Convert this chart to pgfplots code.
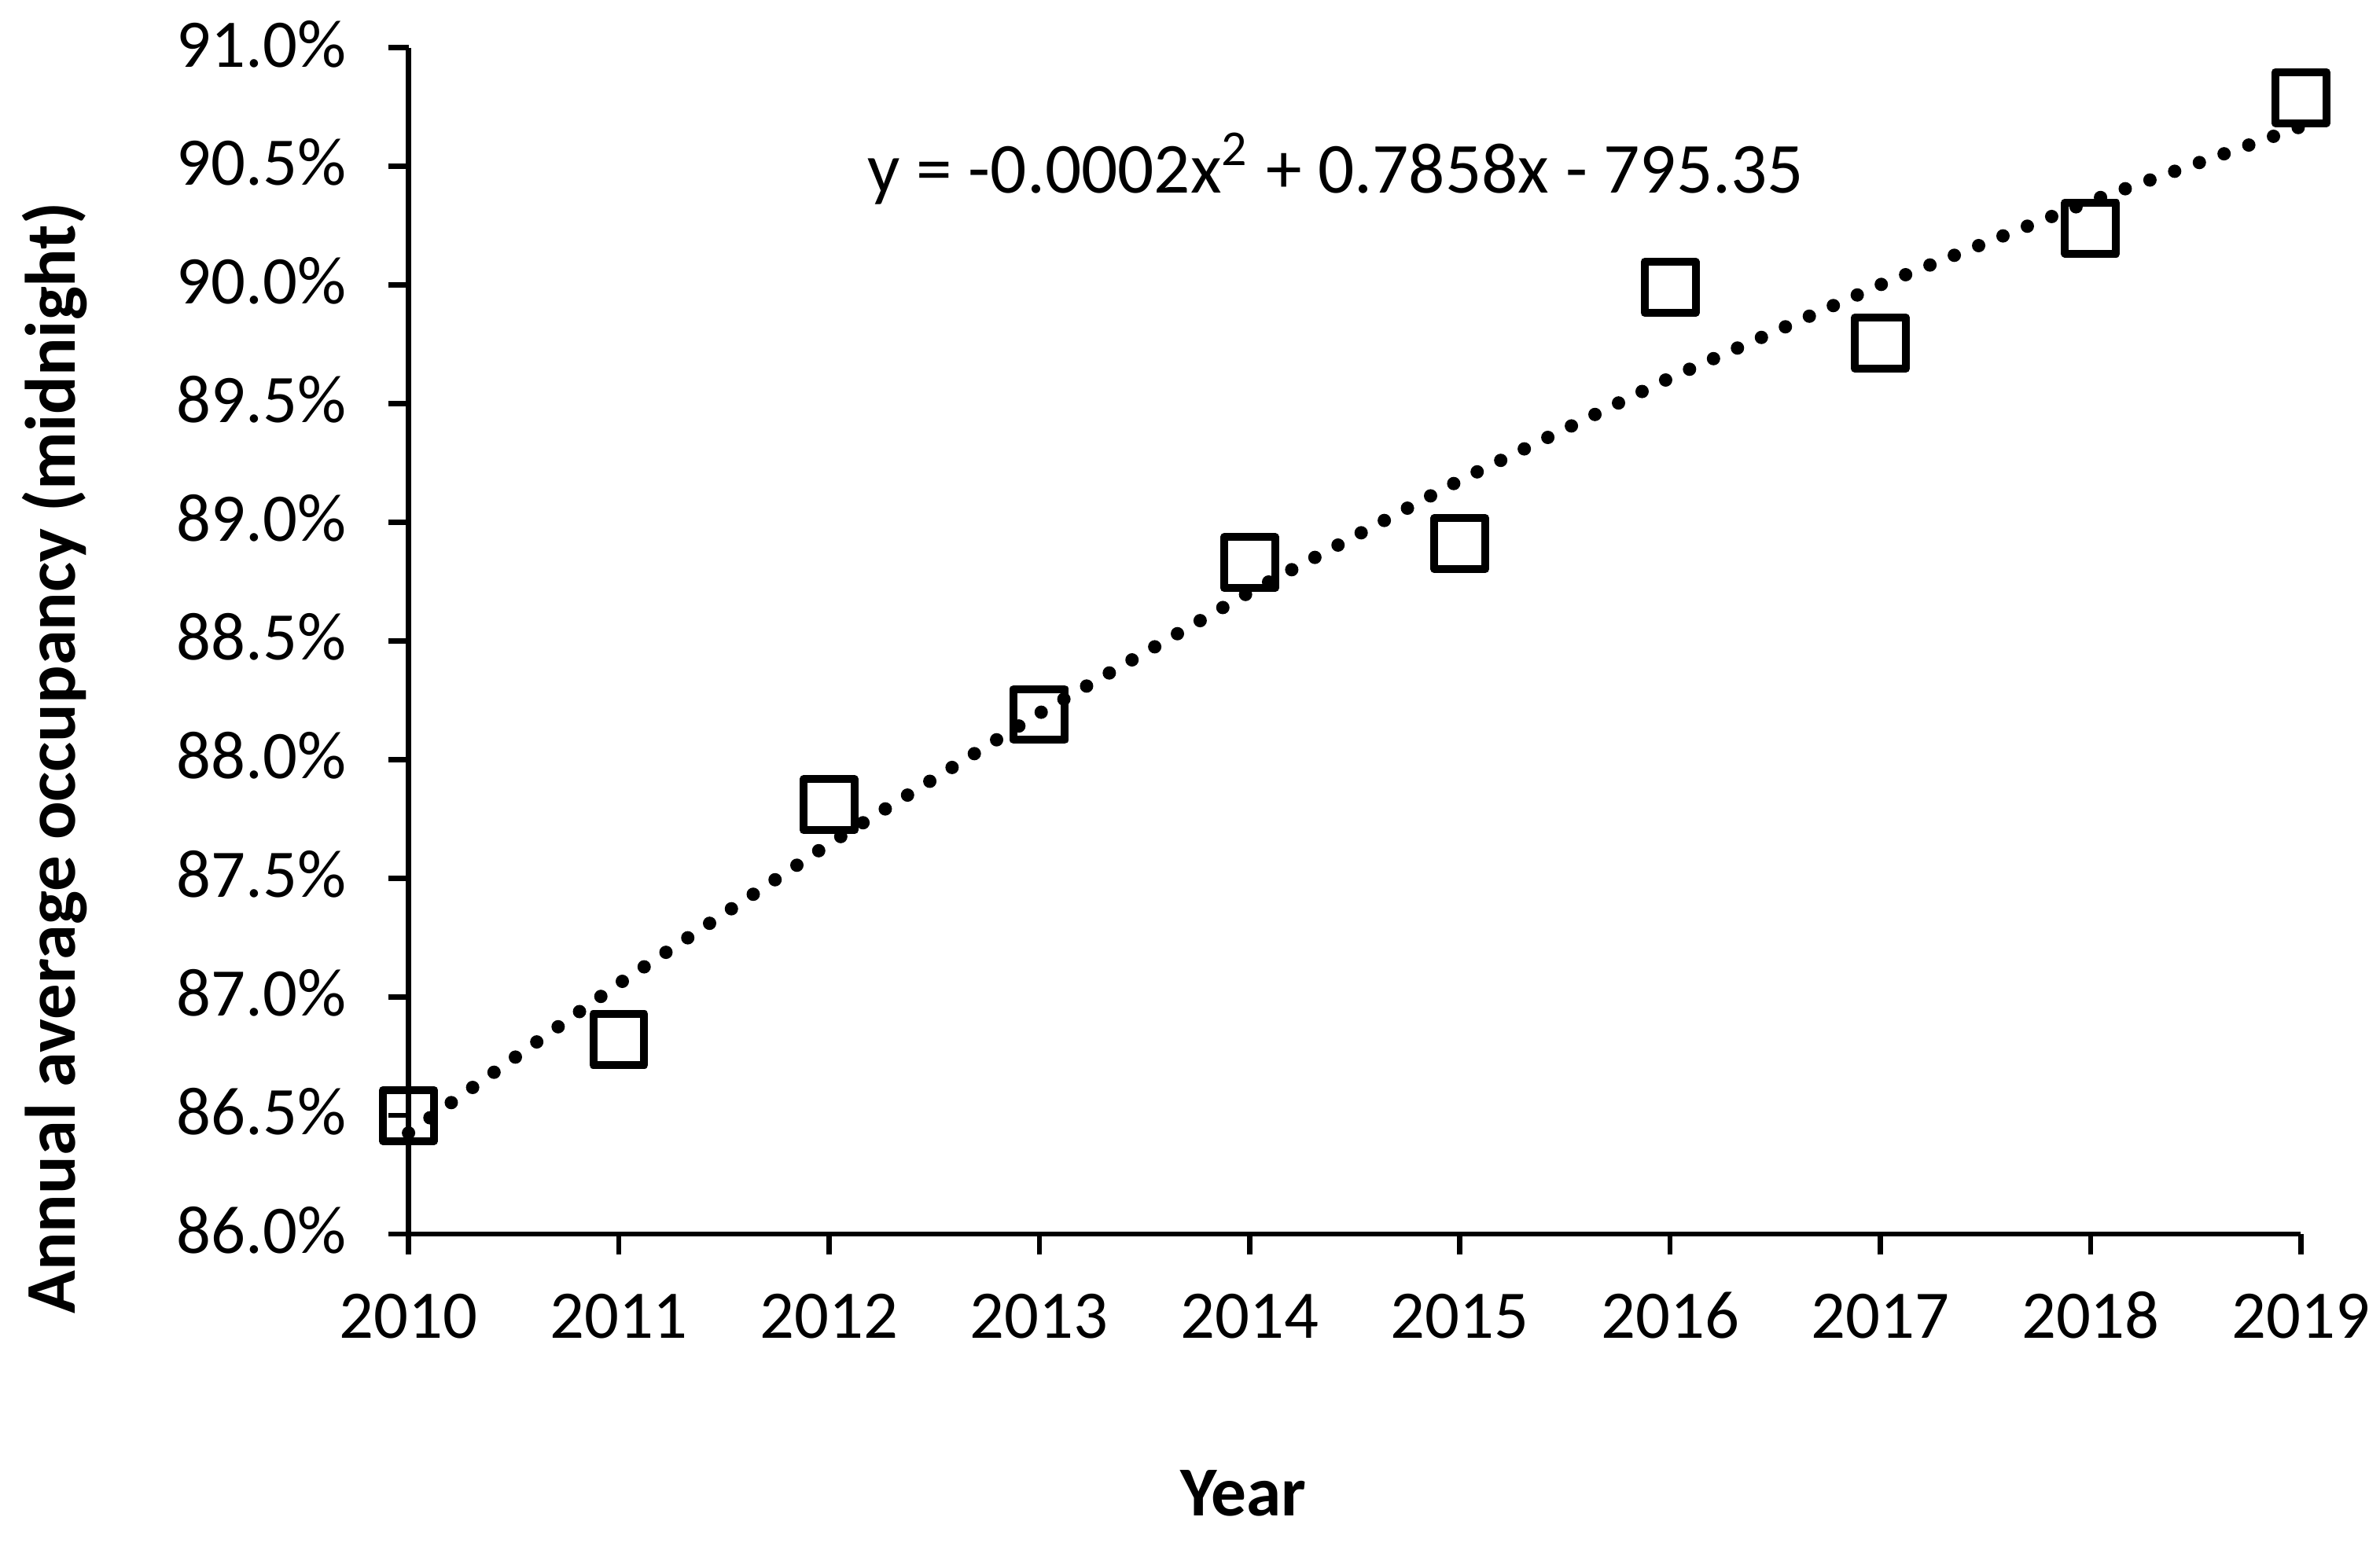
\documentclass[border=0pt]{standalone}
\usepackage{pgfplots}
\pgfplotsset{compat=1.18}
\usepackage{fontspec}
\setmainfont{Carlito}
\begin{document}
\begin{tikzpicture}
\path[use as bounding box] (-77.94pt,-60.15pt) rectangle (376.1pt,235.5pt);
\begin{axis}[
  at={(0,0)}, anchor=south west,
  scale only axis, width=361pt, height=226.4pt,
  xmin=2010, xmax=2019, ymin=86, ymax=91,
  clip=false,
  axis lines*=left,
  axis line style={line width=1pt, black},
  tick align=outside,
  major tick length=3.9pt,
  tick style={line width=1pt, black},
  xtick={2010,2011,...,2019},
  xticklabels={2010,2011,2012,2013,2014,2015,2016,2017,2018,2019},
  ytick={86,86.5,87,87.5,88,88.5,89,89.5,90,90.5,91},
  yticklabels={86.0\%,86.5\%,87.0\%,87.5\%,88.0\%,88.5\%,89.0\%,89.5\%,90.0\%,90.5\%,91.0\%},
  xticklabel style={font=\fontsize{13}{15}\selectfont, anchor=base, inner sep=0pt, yshift=-15.9pt},
  yticklabel style={font=\fontsize{13}{15}\selectfont, anchor=base east, inner sep=0pt, xshift=-7.8pt, yshift=-3.65pt},
]
% fitted quadratic trend line (values at each year)
\addplot[black, no marks, line width=2.55pt, line cap=round, dash pattern=on 0pt off 5pt]
  coordinates {(2010,86.4263) (2011,87.0553) (2012,87.6448) (2013,88.1949) (2014,88.7056)
               (2015,89.1769) (2016,89.6087) (2017,90.0010) (2018,90.3540) (2019,90.6675)};
% observed annual averages
\addplot[only marks, mark=square, mark size=4.87pt,
         mark options={line width=1.5pt, black, solid, line join=round}]
  coordinates {(2010,86.50) (2011,86.82) (2012,87.81) (2013,88.19) (2014,88.83)
               (2015,88.91) (2016,89.99) (2017,89.755) (2018,90.24) (2019,90.79)};
\end{axis}
\node[anchor=base west, inner sep=0pt, font=\fontsize{13.7}{16}\selectfont]
  at (87.4pt,198.7pt) {y = -0.0002x\textsuperscript{2} + 0.7858x - 795.35};
\node[anchor=base, rotate=90, inner sep=0pt, font=\bfseries\fontsize{13.6}{16}\selectfont]
  at (-63.65pt,90.8pt) {Annual average occupancy (midnight)};
\node[anchor=base, inner sep=0pt, font=\bfseries\fontsize{13.4}{16}\selectfont]
  at (159.3pt,-53.7pt) {Year};
\end{tikzpicture}
\end{document}
